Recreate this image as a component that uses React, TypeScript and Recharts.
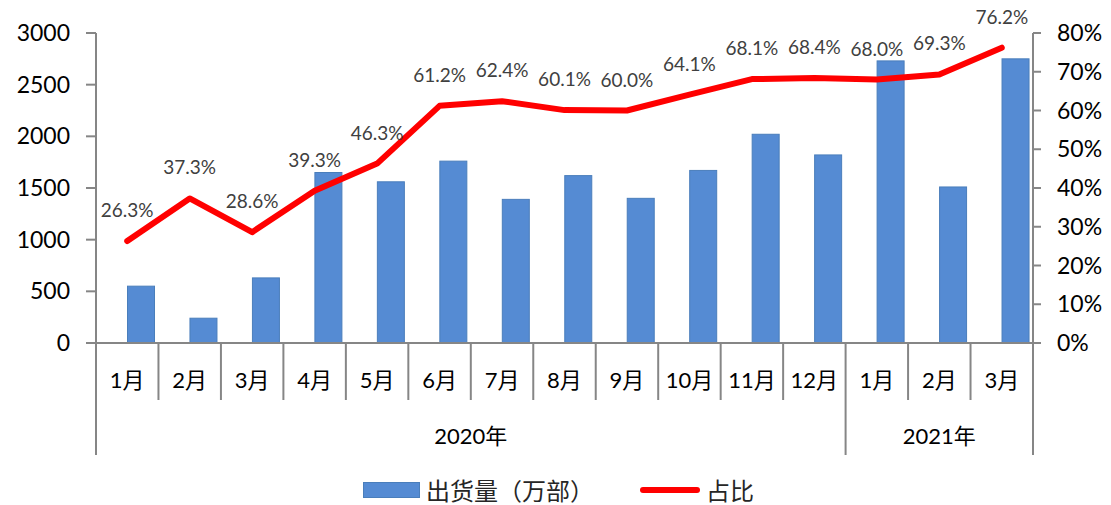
import { ComposedChart, Bar, Line, XAxis, YAxis, Legend, LabelList } from "recharts";

const months = ["1月", "2月", "3月", "4月", "5月", "6月", "7月", "8月", "9月", "10月", "11月", "12月", "1月", "2月", "3月"];
const shipments = [550, 240, 630, 1650, 1560, 1760, 1390, 1620, 1400, 1670, 2020, 1820, 2730, 1510, 2750];
const shares = [26.3, 37.3, 28.6, 39.3, 46.3, 61.2, 62.4, 60.1, 60.0, 64.1, 68.1, 68.4, 68.0, 69.3, 76.2];
const years = [
  { label: "2020年", start: 0, end: 11 },
  { label: "2021年", start: 12, end: 14 },
];
const leftTicks = [0, 500, 1000, 1500, 2000, 2500, 3000];
const rightTicks = [0, 10, 20, 30, 40, 50, 60, 70, 80];

const W = 1111;
const H = 505;
const LEFT_W = 96;
const RIGHT_W = 78;
const BAND = (W - LEFT_W - RIGHT_W) / months.length;
const AXIS_GRAY = "#868686";
const LATO = "Lato, 'Noto Sans CJK SC', sans-serif";

const data = months.map((m, i) => ({ month: m, shipments: shipments[i], share: shares[i] }));

function MonthTick(props: any) {
  const { x, y, index, payload } = props;
  const left = x - BAND / 2;
  const yearStart = years.find((g) => g.start === index);
  const isLast = index === months.length - 1;
  return (
    <g>
      <line x1={left} x2={left} y1={y} y2={y + (yearStart ? 112 : 57)} stroke={AXIS_GRAY} strokeWidth={2} />
      {isLast && <line x1={x + BAND / 2} x2={x + BAND / 2} y1={y} y2={y + 112} stroke={AXIS_GRAY} strokeWidth={2} />}
      <text x={x} y={y + 45} textAnchor="middle" fontSize={22} fontFamily={LATO} fill="#000">
        {payload.value}
      </text>
      {yearStart && (
        <text
          x={left + ((yearStart.end - yearStart.start + 1) * BAND) / 2}
          y={y + 101}
          textAnchor="middle"
          fontSize={22}
          fontFamily={LATO}
          fill="#000"
        >
          {yearStart.label}
        </text>
      )}
    </g>
  );
}

function ShiftedBar(props: any) {
  const { x, y, width, height } = props;
  if (!height) return null;
  return <rect x={x + width / 2} y={y} width={width} height={height} fill="#558BD3" stroke="#4A7EBB" strokeWidth={1} />;
}

function ShareLabel(props: any) {
  const { x, y, value } = props;
  return (
    <text x={x} y={y - 24} textAnchor="middle" fontSize={19} fontFamily={LATO} fill="#404040">
      {`${Number(value).toFixed(1)}%`}
    </text>
  );
}

function LegendBox() {
  return (
    <div
      style={{
        display: "flex",
        alignItems: "center",
        paddingLeft: 363,
        fontFamily: "'Noto Sans CJK SC', sans-serif",
        fontSize: 24,
        lineHeight: "26px",
        height: 26,
        color: "#262626",
      }}
    >
      <span style={{ display: "inline-block", width: 57, height: 16, background: "#558BD3", border: "1px solid #4A7EBB", boxSizing: "border-box", marginRight: 6 }} />
      <span>出货量（万部）</span>
      <span style={{ display: "inline-block", width: 60, height: 6, background: "#ff0000", borderRadius: 3, marginLeft: 46, marginRight: 6 }} />
      <span>占比</span>
    </div>
  );
}

export default function App() {
  return (
    <div style={{ position: "absolute", left: 0, top: 0, width: W, height: H, background: "#fff" }}>
      <ComposedChart width={W} height={H} data={data} margin={{ top: 33, right: 0, bottom: 24, left: 0 }} barSize={27}>
        <XAxis
          dataKey="month"
          interval={0}
          height={112}
          tickSize={0}
          tickMargin={0}
          tickLine={false}
          axisLine={{ stroke: AXIS_GRAY, strokeWidth: 2 }}
          tick={<MonthTick />}
        />
        <YAxis
          yAxisId="left"
          width={LEFT_W}
          domain={[0, 3000]}
          ticks={leftTicks}
          tickSize={10}
          tickMargin={16}
          axisLine={{ stroke: AXIS_GRAY, strokeWidth: 2 }}
          tickLine={{ stroke: AXIS_GRAY, strokeWidth: 2 }}
          tick={{ fontSize: 23, fill: "#000", fontFamily: LATO }}
        />
        <YAxis
          yAxisId="right"
          orientation="right"
          width={RIGHT_W}
          domain={[0, 80]}
          ticks={rightTicks}
          tickFormatter={(v: number) => `${v}%`}
          tickSize={8}
          tickMargin={16}
          axisLine={{ stroke: AXIS_GRAY, strokeWidth: 2 }}
          tickLine={{ stroke: AXIS_GRAY, strokeWidth: 2 }}
          tick={{ fontSize: 23, fill: "#000", fontFamily: LATO, textAnchor: "start" }}
        />
        <Bar yAxisId="left" dataKey="shipments" shape={<ShiftedBar />} isAnimationActive={false} />
        <Line
          yAxisId="right"
          dataKey="share"
          type="linear"
          stroke="#ff0000"
          strokeWidth={6}
          strokeLinecap="round"
          strokeLinejoin="round"
          dot={false}
          isAnimationActive={false}
        >
          <LabelList dataKey="share" content={<ShareLabel />} />
        </Line>
        <Legend
          verticalAlign="bottom"
          wrapperStyle={{ left: 0, width: W, top: 477, bottom: "auto" }}
          content={() => <LegendBox />}
        />
      </ComposedChart>
    </div>
  );
}
